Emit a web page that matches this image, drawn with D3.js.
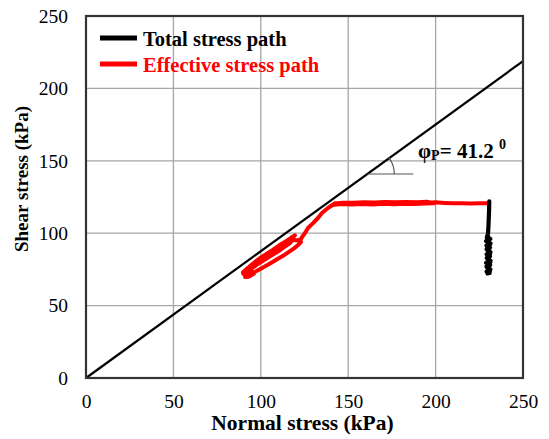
<!DOCTYPE html>
<html>
<head>
<meta charset="utf-8">
<script src="https://cdn.jsdelivr.net/npm/d3@7"></script>
<style>
  html, body { margin: 0; padding: 0; background: #fff; }
  svg { display: block; }
  text { font-family: "Liberation Serif", "Times New Roman", serif; }
</style>
</head>
<body>
<svg id="chart" width="549" height="439"></svg>
<script>
// Axis ticks
const xTicks = [0, 50, 100, 150, 200, 250];
const yTicks = [0, 50, 100, 150, 200, 250];

// Peak friction angle of the failure envelope (degrees)
const phiPeak = 41.2;

// Total stress path: normal stress (kPa), shear stress (kPa)
const totalNormal = [230.7, 230.6, 230.4, 230.2, 230.0, 229.3, 231.3, 228.9, 231.4, 229.1, 231.1, 229.4, 231.3, 229.2, 231.1, 229.5, 231.4, 228.9, 231.2, 229.3, 231.3, 229.2, 230.9, 229.7, 231.1, 229.1, 231.3, 229.3, 231.2, 229.2, 231.1, 229.4, 230.2];
const totalShear  = [122.0, 116.0, 110.0, 104.0, 100.0, 97.0, 96.0, 94.5, 93.0, 91.5, 90.0, 88.5, 87.0, 85.5, 84.0, 82.5, 81.0, 79.5, 78.0, 76.5, 75.0, 73.5, 72.5, 72.2, 74.0, 77.0, 80.0, 83.0, 86.0, 89.0, 92.0, 95.0, 97.5];

// Effective stress path: normal stress (kPa), shear stress (kPa)
const effNormal = [
  123.0, 121.5, 119.0, 116.5, 113.5, 110.0, 106.5, 103.0, 100.0, 97.0, 94.5,
  92.0, 90.5, 93.0, 91.0, 89.8, 92.5, 95.0, 92.0, 90.0, 93.5, 96.0, 93.0, 91.0, 93.0,
  94.0, 97.0, 100.5, 104.0, 107.5, 111.0, 114.5, 117.5, 119.5,
  117.0, 113.0, 109.0, 105.0, 101.0, 97.0, 93.5, 92.0,
  94.5, 98.0, 102.0, 106.0, 110.0, 113.5, 116.5, 118.5, 121.0, 123.0,
  123.6, 125.3, 127.0, 129.9, 132.7, 135.0, 138.4,
  141, 146, 152, 158, 164, 170, 176, 182, 188, 194, 199,
  195, 189, 183, 177, 171, 165, 159, 153, 147, 142,
  146, 152, 158, 164, 170, 176, 182, 188, 194, 200, 205, 210, 215, 220, 225, 230.4];
const effShear  = [
  94.0, 92.0, 89.5, 87.5, 85.0, 82.5, 80.0, 77.5, 75.5, 73.5, 72.0,
  71.0, 72.5, 74.5, 71.5, 73.0, 76.0, 73.0, 70.5, 72.0, 75.5, 72.0, 70.0, 69.8, 71.5,
  77.5, 80.0, 83.0, 86.0, 89.0, 92.0, 94.5, 97.0, 98.5,
  96.0, 93.0, 90.0, 87.0, 84.0, 80.5, 77.0, 74.0,
  75.5, 78.5, 81.5, 84.5, 87.5, 90.5, 93.0, 95.5, 95.0, 96.0,
  97.4, 100.1, 103.6, 107.0, 110.5, 113.9, 117.4,
  119.5, 120.1, 119.8, 120.2, 119.9, 120.3, 120.0, 120.4, 120.1, 120.5, 120.6,
  121.8, 121.4, 121.6, 121.3, 121.5, 121.2, 121.4, 121.1, 121.0, 120.6,
  120.7, 120.9, 120.6, 121.0, 120.7, 121.1, 120.8, 121.2, 120.9, 121.3, 120.9, 120.6, 120.7, 120.5, 120.7, 120.6];

const W = 549, H = 439;
const margin = { left: 86, right: 26, top: 16, bottom: 61 };

const svg = d3.select("#chart");

const x = d3.scaleLinear().domain([0, 250]).range([margin.left, W - margin.right]);
const y = d3.scaleLinear().domain([0, 250]).range([H - margin.bottom, margin.top]);

// Gridlines
const grid = svg.append("g");
grid.selectAll("line.vx").data(xTicks.slice(1, -1)).join("line")
  .attr("x1", d => x(d)).attr("x2", d => x(d))
  .attr("y1", y(0)).attr("y2", y(250))
  .attr("stroke", "#a6a6a6").attr("stroke-width", 1.3);
grid.selectAll("line.hy").data(yTicks.slice(1, -1)).join("line")
  .attr("x1", x(0)).attr("x2", x(250))
  .attr("y1", d => y(d)).attr("y2", d => y(d))
  .attr("stroke", "#a6a6a6").attr("stroke-width", 1.3);

// Axes (labels only; the frame is drawn separately)
const xAxis = svg.append("g")
  .attr("transform", `translate(0,${y(0)})`)
  .call(d3.axisBottom(x).tickValues(xTicks).tickSize(0).tickPadding(0));
xAxis.select(".domain").remove();
xAxis.selectAll("text")
  .attr("dy", null).attr("y", 30)
  .attr("font-family", "Liberation Serif, serif")
  .attr("font-size", 19.5).attr("fill", "#000");

const yAxis = svg.append("g")
  .attr("transform", `translate(${x(0)},0)`)
  .call(d3.axisLeft(y).tickValues(yTicks).tickSize(0).tickPadding(18));
yAxis.select(".domain").remove();
yAxis.selectAll("text")
  .attr("font-family", "Liberation Serif, serif")
  .attr("font-size", 19.5).attr("fill", "#000");

// Failure envelope through the origin
const tanPhi = Math.tan(phiPeak * Math.PI / 180);
const envX = [0, 250];
svg.append("line")
  .attr("x1", x(envX[0])).attr("y1", y(envX[0] * tanPhi))
  .attr("x2", x(envX[1])).attr("y2", y(envX[1] * tanPhi))
  .attr("stroke", "#000").attr("stroke-width", 2.2);

// Angle marker: horizontal reference and arc centred on the envelope
const markY = 174;
const markTau = y.invert(markY);
const markX = x(markTau / tanPhi);
const arcR = 27;
svg.append("line")
  .attr("x1", markX).attr("x2", markX + 46)
  .attr("y1", markY).attr("y2", markY)
  .attr("stroke", "#555").attr("stroke-width", 1.2);
svg.append("path")
  .attr("d", d3.arc()({ innerRadius: arcR, outerRadius: arcR, startAngle: Math.PI / 2 - phiPeak * Math.PI / 180 * 0.9, endAngle: Math.PI / 2 }))
  .attr("transform", `translate(${markX},${markY})`)
  .attr("fill", "none").attr("stroke", "#555").attr("stroke-width", 1.2);

// Stress paths
const line = d3.line().x(d => x(d[0])).y(d => y(d[1]));
svg.append("path")
  .datum(effNormal.map((v, i) => [v, effShear[i]]))
  .attr("d", line)
  .attr("fill", "none").attr("stroke", "#ff0000").attr("stroke-width", 4)
  .attr("stroke-linejoin", "round").attr("stroke-linecap", "round");
svg.append("path")
  .datum(totalNormal.map((v, i) => [v, totalShear[i]]))
  .attr("d", line)
  .attr("fill", "none").attr("stroke", "#000").attr("stroke-width", 4.2)
  .attr("stroke-linejoin", "round").attr("stroke-linecap", "round");

// Plot frame
svg.append("rect")
  .attr("x", x(0)).attr("y", y(250))
  .attr("width", x(250) - x(0)).attr("height", y(0) - y(250))
  .attr("fill", "none").attr("stroke", "#333").attr("stroke-width", 2.2);

// Legend
const legend = [
  { label: "Total stress path", color: "#000" },
  { label: "Effective stress path", color: "#ff0000" }
];
const lg = svg.append("g");
legend.forEach((d, i) => {
  const ly = 38 + i * 26;
  lg.append("line").attr("x1", 100).attr("x2", 137).attr("y1", ly).attr("y2", ly)
    .attr("stroke", d.color).attr("stroke-width", 5);
  lg.append("text").attr("x", 143).attr("y", ly + 7.5)
    .attr("font-size", 20.5).attr("font-weight", "bold").attr("fill", d.color)
    .text(d.label);
});

// Angle annotation
const ann = svg.append("text").attr("x", 418).attr("y", 158)
  .attr("font-size", 21).attr("font-weight", "bold").attr("fill", "#000");
ann.append("tspan").text("φ");
ann.append("tspan").attr("font-size", 14).attr("dy", 2).text("P");
ann.append("tspan").attr("dy", -2).text("= " + phiPeak.toFixed(1) + " ");
ann.append("tspan").attr("font-size", 14).attr("dy", -9).text("0");

// Axis titles
svg.append("text")
  .attr("x", (x(0) + x(250)) / 2 - 2).attr("y", 430)
  .attr("text-anchor", "middle")
  .attr("font-size", 21.5).attr("font-weight", "bold")
  .text("Normal stress (kPa)");
svg.append("text")
  .attr("transform", `translate(28,179) rotate(-90)`)
  .attr("text-anchor", "middle")
  .attr("font-size", 19).attr("font-weight", "bold")
  .text("Shear stress (kPa)");
</script>
</body>
</html>
